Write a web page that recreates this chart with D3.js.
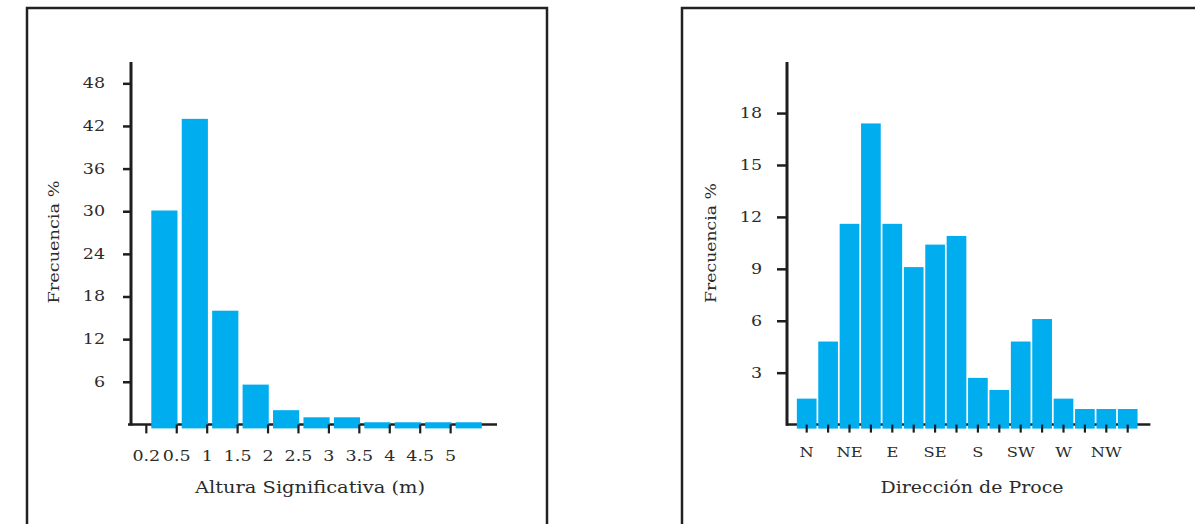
<!DOCTYPE html>
<html>
<head>
<meta charset="utf-8">
<script src="https://cdn.jsdelivr.net/npm/d3@7"></script>
<style>
  html, body { margin: 0; padding: 0; background: #ffffff; }
  svg { display: block; }
  text { font-family: "DejaVu Serif", "Liberation Serif", serif; fill: #2b2b2b; }
</style>
</head>
<body>
<svg id="chart" width="1195" height="524"></svg>
<script>
// ---------- DATA ----------
// Left: significant wave height histogram (bins of 0.5 m, starting at these lower edges)
const hsBinEdges = [0, 0.5, 1, 1.5, 2, 2.5, 3, 3.5, 4, 4.5, 5];
const hsValues   = [30.1, 43.0, 16.0, 5.6, 2.0, 1.0, 1.0, 0.3, 0.3, 0.3, 0.3];
const hsTickLabels = ["0.2", "0.5", "1", "1.5", "2", "2.5", "3", "3.5", "4", "4.5", "5"];
const hsYTicks = [6, 12, 18, 24, 30, 36, 42, 48];

// Right: peak direction histogram (16 sectors)
const dirCategories = ["N","NNE","NE","ENE","E","ESE","SE","SSE","S","SSW","SW","WSW","W","WNW","NW","NNW"];
const dirValues     = [1.5, 4.8, 11.6, 17.4, 11.6, 9.1, 10.4, 10.9, 2.7, 2.0, 4.8, 6.1, 1.5, 0.9, 0.9, 0.9];
const dirTickLabels = ["N", "NE", "E", "SE", "S", "SW", "W", "NW"];
const dirYTicks = [3, 6, 9, 12, 15, 18];

const leftXTitle = "Altura Significativa (m)";
const rightXTitle = "Dirección de Proce";
const yTitle = "Frecuencia %";

// ---------- STYLE ----------
const barColor = "#00adef";
const inkColor = "#1e1e1e";
const textScale = 1.25;

const svg = d3.select("#chart");

// Panel frames (bottom edge lies outside the picture)
svg.append("rect").attr("x", 27).attr("y", 8).attr("width", 520).attr("height", 560)
  .attr("fill", "none").attr("stroke", "#222").attr("stroke-width", 2.5);
svg.append("rect").attr("x", 682).attr("y", 8).attr("width", 560).attr("height", 560)
  .attr("fill", "none").attr("stroke", "#222").attr("stroke-width", 2.5);

function styleTickText(sel, dx) {
  sel.selectAll("text")
    .attr("font-size", 14)
    .attr("fill", "#2b2b2b")
    .attr("font-family", '"DejaVu Serif", serif');
}

// ================= LEFT CHART =================
(function () {
  const axisX = 131, y0 = 424.4, yTop = 62;
  const x = d3.scaleLinear().domain([-0.26, 5.77]).range([130, 497]);
  const y = d3.scaleLinear().domain([0, 51]).range([y0, yTop]);
  const g = svg.append("g");

  // x axis line
  g.append("line").attr("x1", x.range()[0] - 2).attr("x2", x.range()[1])
    .attr("y1", y0).attr("y2", y0).attr("stroke", inkColor).attr("stroke-width", 2.5);

  // bars (drawn over the axis line, extending slightly below it)
  g.selectAll("rect.bar").data(hsValues).join("rect").attr("class", "bar")
    .attr("x", (d, i) => x(hsBinEdges[i] + 0.09))
    .attr("width", (d, i) => x(hsBinEdges[i] + 0.52) - x(hsBinEdges[i] + 0.09))
    .attr("y", d => y(d))
    .attr("height", d => y(0) - y(d) + 4)
    .attr("fill", barColor);

  // x axis ticks and labels
  const xAxis = d3.axisBottom(x).tickValues(hsBinEdges)
    .tickFormat((d, i) => hsTickLabels[i]).tickSize(9).tickSizeOuter(0);
  const gx = g.append("g").attr("transform", `translate(0,${y0})`).call(xAxis);
  gx.select(".domain").remove();
  gx.selectAll(".tick line").attr("stroke", inkColor).attr("stroke-width", 2.2);
  gx.selectAll(".tick text").attr("y", 27).attr("font-size", 14)
    .attr("transform", `scale(${textScale},1)`);

  // y axis
  const yAxis = d3.axisLeft(y).tickValues(hsYTicks).tickSize(8).tickSizeOuter(0);
  const gy = g.append("g").attr("transform", `translate(${axisX},0)`).call(yAxis);
  gy.select(".domain").remove();
  gy.selectAll(".tick line").attr("stroke", inkColor).attr("stroke-width", 2.5);
  gy.selectAll(".tick text").attr("x", -26 / textScale).attr("font-size", 14)
    .attr("transform", `scale(${textScale},1)`);
  g.append("line").attr("x1", axisX).attr("x2", axisX).attr("y1", yTop).attr("y2", y0 + 1.2)
    .attr("stroke", inkColor).attr("stroke-width", 3);

  // titles
  g.append("text").attr("x", 310).attr("y", 493).attr("text-anchor", "middle")
    .attr("font-size", 16).attr("textLength", 230).attr("lengthAdjust", "spacingAndGlyphs")
    .text(leftXTitle);
  g.append("text").attr("transform", "translate(59,242) rotate(-90)").attr("text-anchor", "middle")
    .attr("font-size", 15).attr("textLength", 123).attr("lengthAdjust", "spacingAndGlyphs")
    .text(yTitle);
})();

// ================= RIGHT CHART =================
(function () {
  const axisX = 787, y0 = 424.6, yTop = 62;
  const x = d3.scaleBand().domain(dirCategories).range([796, 1138.4])
    .paddingInner(0.08).paddingOuter(0.04);
  const y = d3.scaleLinear().domain([0, 20.95]).range([y0, yTop]);
  const g = svg.append("g");

  g.append("line").attr("x1", axisX - 1).attr("x2", x.range()[1] + 12)
    .attr("y1", y0).attr("y2", y0).attr("stroke", inkColor).attr("stroke-width", 2.5);

  g.selectAll("rect.bar").data(dirValues).join("rect").attr("class", "bar")
    .attr("x", (d, i) => x(dirCategories[i]))
    .attr("width", x.bandwidth())
    .attr("y", d => y(d))
    .attr("height", d => y(0) - y(d) + 4)
    .attr("fill", barColor);

  const xAxis = d3.axisBottom(x).tickValues(dirCategories)
    .tickFormat(d => dirTickLabels.includes(d) ? d : "").tickSize(8).tickSizeOuter(0);
  const gx = g.append("g").attr("transform", `translate(0,${y0})`).call(xAxis);
  gx.select(".domain").remove();
  gx.selectAll(".tick line").attr("stroke", inkColor).attr("stroke-width", 2.2);
  gx.selectAll(".tick text").attr("y", 23.5).attr("font-size", 13)
    .attr("transform", `scale(${textScale},1)`);

  const yAxis = d3.axisLeft(y).tickValues(dirYTicks).tickSize(10).tickSizeOuter(0);
  const gy = g.append("g").attr("transform", `translate(${axisX},0)`).call(yAxis);
  gy.select(".domain").remove();
  gy.selectAll(".tick line").attr("stroke", inkColor).attr("stroke-width", 2.5);
  gy.selectAll(".tick text").attr("x", -25 / textScale).attr("font-size", 14)
    .attr("transform", `scale(${textScale},1)`);
  g.append("line").attr("x1", axisX).attr("x2", axisX).attr("y1", yTop).attr("y2", y0 + 1.2)
    .attr("stroke", inkColor).attr("stroke-width", 3);

  g.append("text").attr("x", 972).attr("y", 493).attr("text-anchor", "middle")
    .attr("font-size", 16).attr("textLength", 183).attr("lengthAdjust", "spacingAndGlyphs")
    .text(rightXTitle);
  g.append("text").attr("transform", "translate(716,243) rotate(-90)").attr("text-anchor", "middle")
    .attr("font-size", 15).attr("textLength", 120).attr("lengthAdjust", "spacingAndGlyphs")
    .text(yTitle);
})();
</script>
</body>
</html>
